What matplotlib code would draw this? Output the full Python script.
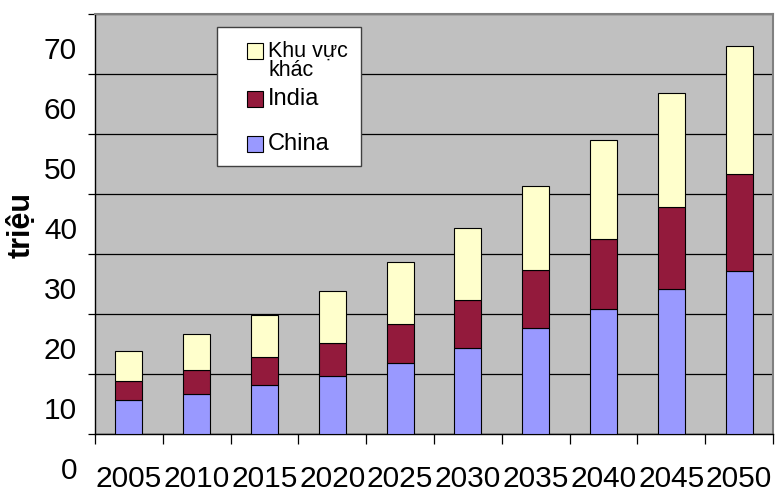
import matplotlib
matplotlib.use("Agg")
from matplotlib import pyplot as plt
from matplotlib import transforms as mtrans
from matplotlib.patches import Rectangle
import numpy as np

plt.rcParams['font.family'] = ['Liberation Sans', 'DejaVu Sans']

years = ['2005', '2010', '2015', '2020', '2025', '2030', '2035', '2040', '2045', '2050']
china = [5.7, 6.7, 8.1, 9.6, 11.8, 14.3, 17.6, 20.8, 24.1, 27.1]
india = [3.2, 3.9, 4.7, 5.6, 6.6, 8.1, 9.7, 11.7, 13.8, 16.3]
other = [4.9, 6.0, 7.1, 8.6, 10.3, 12.0, 14.1, 16.5, 19.0, 21.3]
yticks = [0, 10, 20, 30, 40, 50, 60, 70]

C_CHINA = '#9999FF'
C_INDIA = '#931A3C'
C_OTHER = '#FFFFCC'

W, H = 776, 495
fig = plt.figure(figsize=(W/100, H/100), dpi=100)
ax = fig.add_axes([95/W, 61/H, 678/W, 420/H])
ax.set_facecolor('#C0C0C0')

x = np.arange(len(years))
china = np.array(china)
india = np.array(india)
other = np.array(other)
w = 0.4
ax.bar(x, china, w, color=C_CHINA, edgecolor='black', linewidth=0.8, zorder=3)
ax.bar(x, india, w, bottom=china, color=C_INDIA, edgecolor='black', linewidth=0.8, zorder=3)
ax.bar(x, other, w, bottom=china + india, color=C_OTHER, edgecolor='black', linewidth=0.8, zorder=3)

ax.set_xlim(-0.5, len(years) - 0.5)
ax.set_ylim(0, 70)

# gridlines
ax.set_yticks(yticks)
ax.yaxis.grid(True, color='black', linewidth=0.9, zorder=1)
ax.set_axisbelow(True)
ax.tick_params(axis='y', direction='out', length=5, width=0.9, pad=8, labelsize=21.5)
# labels sit below their gridlines in the original
offset = mtrans.ScaledTranslation(0, -34/100, fig.dpi_scale_trans)
for lab in ax.get_yticklabels():
    lab.set_transform(lab.get_transform() + offset)

# x ticks between categories, labels at centres
ax.set_xticks(x)
ax.set_xticklabels(years)
ax.tick_params(axis='x', which='major', length=0, pad=22, labelsize=21.5)
ax.set_xticks(np.arange(-0.5, len(years)), minor=True)
ax.tick_params(axis='x', which='minor', direction='out', length=7, width=0.9)

for s in ['left', 'bottom']:
    ax.spines[s].set_color('black')
    ax.spines[s].set_linewidth(1.0)
for s in ['top', 'right']:
    ax.spines[s].set_color('#808080')
    ax.spines[s].set_linewidth(1.5)

fig.text(22/W, 1 - 225/H, 'triệu', rotation=90, ha='center', va='center',
         fontsize=22, fontweight='bold')

# legend box drawn by hand (patch sits beside the first line of the two-line label)
def fy(py):
    return 1 - py/H

fig.patches.append(Rectangle((217/W, fy(166)), 144/W, 139/H, transform=fig.transFigure,
                             facecolor='white', edgecolor='#404040', linewidth=1.0, zorder=5))
entries = [(C_OTHER, 'Khu vực', 51, 15.5), (C_INDIA, 'India', 99, 17), (C_CHINA, 'China', 144, 17)]
for col, lab, cy, fs in entries:
    fig.patches.append(Rectangle((247/W, fy(cy + 8)), 16/W, 16/H, transform=fig.transFigure,
                                 facecolor=col, edgecolor='black', linewidth=0.8, zorder=6))
    fig.text(268/W, fy(cy), lab, ha='left', va='center', fontsize=fs, zorder=7)
fig.text(268/W, fy(71), 'khác', ha='left', va='center', fontsize=15.5, zorder=7)

fig.savefig('out.png', dpi=100)
